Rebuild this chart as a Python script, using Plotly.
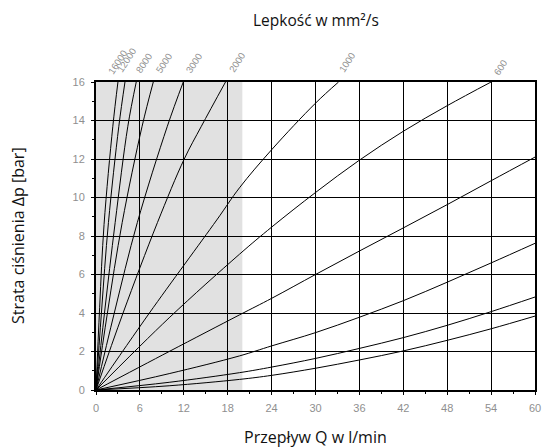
import plotly.graph_objects as go

# Viscosity curves: flow Q [l/min] and pressure loss dp [bar]
visc_labels = ["16000", "12000", "8000", "5000", "3000", "2000", "1000", "600",
               "300", "100", "20", "10"]

q_16000 = [0, 0.5, 1.1, 2.3, 3.0]
dp_16000 = [0, 4.3, 8.6, 13.7, 16.0]
q_12000 = [0, 0.74, 1.7, 3.12, 3.96]
dp_12000 = [0, 4.0, 8.7, 13.7, 16.0]
q_8000 = [0, 1.16, 2.62, 4.35, 5.5]
dp_8000 = [0, 4.0, 8.7, 13.7, 16.0]
q_5000 = [0, 1.56, 3.58, 6.3, 7.83]
dp_5000 = [0, 4.0, 8.7, 13.7, 16.0]
q_3000 = [0, 2.5, 5.65, 9.75, 11.93]
dp_3000 = [0, 4.0, 8.7, 13.7, 16.0]
q_2000 = [0, 3.7, 8.4, 12.06, 14.4, 17.7]
dp_2000 = [0, 4.0, 8.7, 12.0, 13.7, 16.0]
q_1000 = [0, 7.3, 16.5, 19.6, 24.0, 30.0, 33.15]
dp_1000 = [0, 4.0, 8.83, 10.5, 12.48, 14.9, 16.0]
q_600 = [0, 10.0, 19.6, 24.0, 30.0, 36.0, 42.0, 48.0, 54.0]
dp_600 = [0, 3.75, 7.05, 8.46, 10.26, 11.94, 13.44, 14.77, 16.0]
q_300 = [0, 10.0, 19.6, 24.0, 30.0, 36.0, 42.0, 48.0, 54.0, 60.0]
dp_300 = [0, 2.0, 3.9, 4.76, 6.0, 7.22, 8.42, 9.63, 10.87, 12.1]
q_100 = [0, 10.0, 19.6, 24.0, 30.0, 36.0, 42.0, 48.0, 54.0, 60.0]
dp_100 = [0, 0.85, 1.77, 2.29, 2.98, 3.78, 4.64, 5.6, 6.6, 7.62]
q_20 = [0, 10.0, 19.6, 24.0, 30.0, 36.0, 42.0, 48.0, 54.0, 60.0]
dp_20 = [0, 0.4, 0.9, 1.19, 1.64, 2.16, 2.72, 3.36, 4.07, 4.83]
q_10 = [0, 10.0, 19.6, 24.0, 30.0, 36.0, 42.0, 48.0, 54.0, 60.0]
dp_10 = [0, 0.22, 0.55, 0.76, 1.13, 1.56, 2.03, 2.58, 3.18, 3.84]

curves_q = [q_16000, q_12000, q_8000, q_5000, q_3000, q_2000, q_1000, q_600,
            q_300, q_100, q_20, q_10]
curves_dp = [dp_16000, dp_12000, dp_8000, dp_5000, dp_3000, dp_2000, dp_1000, dp_600,
             dp_300, dp_100, dp_20, dp_10]

x_ticks = [0, 6, 12, 18, 24, 30, 36, 42, 48, 54, 60]
y_ticks = [0, 2, 4, 6, 8, 10, 12, 14, 16]
shade_q = [0, 20]

# label offsets in pixels relative to where each curve ends
top_dx = [-1, 1, 7, 10, 10, 11, 8, 9]
top_dy = [20, 22, 19, 19, 19, 20, 20, 15]
side_dy = [3, -5, -8, -7]

fig = go.Figure()

for q, dp in zip(curves_q, curves_dp):
    fig.add_trace(go.Scatter(
        x=q, y=dp, mode="lines",
        line=dict(color="black", width=1, shape="spline", smoothing=1.0),
        hoverinfo="skip", showlegend=False,
    ))

# shaded low-flow band
fig.add_shape(type="rect", xref="x", yref="y",
              x0=shade_q[0], x1=shade_q[1], y0=0, y1=16,
              fillcolor="#e1e1e1", line=dict(width=0), layer="below")

label_font = dict(family="Liberation Sans, Arial, sans-serif", size=9.5, color="#8f8f8f")

# labels above the top edge
for i in range(8):
    fig.add_annotation(
        x=curves_q[i][-1], y=curves_dp[i][-1], xref="x", yref="y",
        text=visc_labels[i], showarrow=False, textangle=-57,
        xanchor="center", yanchor="middle",
        xshift=top_dx[i], yshift=top_dy[i], font=label_font,
    )

# labels beyond the right edge
for k, i in enumerate(range(8, 12)):
    fig.add_annotation(
        x=curves_q[i][-1], y=curves_dp[i][-1], xref="x", yref="y",
        text=visc_labels[i], showarrow=False, textangle=-57,
        xanchor="left", yanchor="middle",
        xshift=6, yshift=side_dy[k], font=label_font,
    )

fig.add_annotation(text="Lepkość w mm²/s", xref="paper", yref="paper",
                   x=0.5, y=1, yshift=62, showarrow=False,
                   xanchor="center", yanchor="middle",
                   font=dict(family="Open Sans, sans-serif", size=15.5, color="#111111"))
fig.add_annotation(text="Przepływ Q w l/min", xref="paper", yref="paper",
                   x=0.5, y=0, yshift=-47, showarrow=False,
                   xanchor="center", yanchor="middle",
                   font=dict(family="Open Sans, sans-serif", size=16, color="#111111"))
fig.add_annotation(text="Strata ciśnienia Δp [bar]", xref="paper", yref="paper",
                   x=0, y=0.5, xshift=-78, showarrow=False, textangle=-90,
                   xanchor="center", yanchor="middle",
                   font=dict(family="Open Sans, sans-serif", size=16, color="#111111"))

tick_font = dict(family="Liberation Sans, Arial, sans-serif", size=11, color="#8f8f8f")

axis_common = dict(
    showgrid=True, gridcolor="#000000", gridwidth=1.3,
    showline=True, linecolor="black", linewidth=2, mirror=True,
    ticks="outside", ticklen=3, tickcolor="black", tickwidth=1,
    tickfont=tick_font, ticklabelstandoff=4, zeroline=False,
    fixedrange=True, automargin=False,
)

fig.update_xaxes(
    range=[0, 60], tickvals=x_ticks, ticktext=[str(v) for v in x_ticks],
    minor=dict(dtick=3, ticks="outside", ticklen=2, tickcolor="black", showgrid=False),
    **axis_common,
)
fig.update_yaxes(
    range=[0, 16], tickvals=y_ticks, ticktext=[str(v) for v in y_ticks],
    minor=dict(dtick=1, ticks="outside", ticklen=2, tickcolor="black", showgrid=False),
    **axis_common,
)

fig.update_layout(
    template="none",
    width=544, height=447,
    margin=dict(l=96, r=9, t=82, b=57, autoexpand=False),
    paper_bgcolor="white", plot_bgcolor="white",
    showlegend=False,
)

fig.write_html("out.html", config={"displayModeBar": False})
